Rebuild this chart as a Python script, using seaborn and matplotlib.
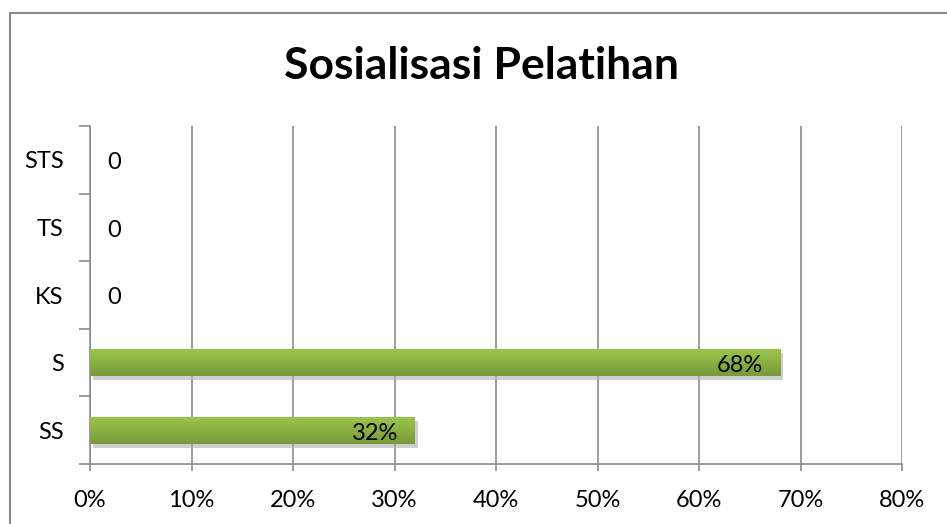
import numpy as np
import pandas as pd
import matplotlib
matplotlib.use("Agg")
import matplotlib.pyplot as plt
import matplotlib.patheffects as pe
from matplotlib.colors import LinearSegmentedColormap
from matplotlib.ticker import FixedLocator, FuncFormatter
import seaborn as sns

# data
kategori = ["STS", "TS", "KS", "S", "SS"]
persen = [0, 0, 0, 68, 32]
xticks = [0, 10, 20, 30, 40, 50, 60, 70, 80]

df = pd.DataFrame({"kategori": kategori, "persen": persen})

sns.set_style("white")
plt.rcParams["font.family"] = ["Lato", "DejaVu Sans"]
plt.rcParams["text.color"] = "black"
plt.rcParams["xtick.color"] = "black"
plt.rcParams["ytick.color"] = "black"

fig = plt.figure(figsize=(9.47, 5.24), dpi=100)
ax = fig.add_axes([90 / 947, 1 - 464 / 524, 812 / 947, 338 / 524])

sns.barplot(data=df, x="persen", y="kategori", order=kategori, color="#8db445",
            width=0.4, linewidth=0, ax=ax, zorder=3)

# gradient fill + shadow
grad = LinearSegmentedColormap.from_list("g", ["#9dc64c", "#779a3a"])
for bar in ax.patches:
    w = bar.get_width()
    if w <= 0:
        bar.set_visible(False)
        continue
    bar.set_path_effects([pe.SimplePatchShadow(offset=(2, -3), shadow_rgbFace="#b0b0b0", alpha=0.6),
                          pe.Normal()])
    x0, y0, h = bar.get_x(), bar.get_y(), bar.get_height()
    im = ax.imshow(np.linspace(0, 1, 64).reshape(-1, 1), cmap=grad, aspect="auto",
                   extent=[x0, x0 + w, y0 + h, y0], zorder=4)
    im.set_clip_path(bar)
ax.set_xlim(0, 80)
ax.set_ylim(len(kategori) - 0.5, -0.5)

# labels
for i, v in enumerate(persen):
    if v > 0:
        ax.annotate(f"{v}%", xy=(v, i), xytext=(-17, -3), textcoords="offset pixels",
                    ha="right", va="center", fontsize=17, color="black", zorder=5)
    else:
        ax.annotate("0", xy=(v, i), xytext=(17, -3), textcoords="offset pixels",
                    ha="left", va="center", fontsize=17, color="black", zorder=5)

# axes styling
ax.set_xlabel("")
ax.set_ylabel("")
ax.xaxis.set_major_locator(FixedLocator(xticks))
ax.xaxis.set_major_formatter(FuncFormatter(lambda x, p: f"{int(x)}%"))
ax.grid(axis="x", color="#8c8c8c", linewidth=1.2, zorder=0)
ax.set_axisbelow(True)
for s in ["top", "right"]:
    ax.spines[s].set_visible(False)
for s in ["left", "bottom"]:
    ax.spines[s].set_color("#8c8c8c")
    ax.spines[s].set_linewidth(1.2)
ax.tick_params(axis="x", length=5, width=1.2, color="#8c8c8c", labelcolor="black",
               pad=14, labelsize=17, bottom=True)
ax.tick_params(axis="y", which="major", length=0, pad=19, labelsize=17, labelcolor="black", left=False)
ax.yaxis.set_minor_locator(FixedLocator(np.arange(-0.5, len(kategori), 1)))
ax.tick_params(axis="y", which="minor", length=8, width=1.2, color="#8c8c8c", left=True)

fig.text(481 / 947, 1 - 66 / 524, "Sosialisasi Pelatihan", ha="center", va="center",
         fontsize=32, fontweight="bold", color="black")

# chart border
fig.add_artist(plt.Line2D([10 / 947, 10 / 947], [0, 1 - 13 / 524], transform=fig.transFigure,
                          color="#8c8c8c", linewidth=1.5))
fig.add_artist(plt.Line2D([10 / 947, 1], [1 - 13 / 524, 1 - 13 / 524], transform=fig.transFigure,
                          color="#8c8c8c", linewidth=1.5))

fig.savefig("out.png", dpi=100)
